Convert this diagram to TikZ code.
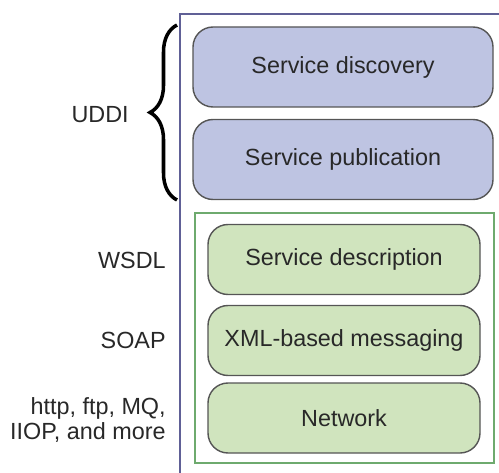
\documentclass[tikz,border=0pt]{standalone}
\usepackage{fontspec}
\setmainfont{Liberation Sans}
\usetikzlibrary{decorations.pathreplacing}
\definecolor{stackBlue}{RGB}{190,196,226}
\definecolor{stackGreen}{RGB}{208,228,190}
\definecolor{stackFrame}{RGB}{96,96,150}
\definecolor{stackLine}{RGB}{110,170,110}
\definecolor{stackEdge}{RGB}{85,85,85}
\definecolor{stackText}{RGB}{40,40,40}
\tikzset{
  layer/.style={draw=stackEdge, thick, rounded corners=4mm, fill=stackBlue,
    minimum width=6cm, minimum height=1.6cm, align=center, text=stackText,
    font=\fontsize{13.3}{16}\selectfont},
  layergreen/.style={layer, fill=stackGreen, minimum width=5.44cm, minimum height=1.4cm},
  tag/.style={anchor=east, align=right, text=stackText, inner sep=0pt,
    font=\fontsize{13.3}{13.8}\selectfont}
}
\begin{document}
\begin{tikzpicture}[x=0.2mm,y=-0.2mm]
    \useasboundingbox (0,0) rectangle (499,473);
    % outer frame and green group
    \draw[stackFrame, line width=1.2pt] (180,473) -- (180,14) -- (499,14);
    \draw[stackLine, line width=1pt] (195,213) rectangle (494,463);
    % layers
    \node[layer] (disc) at (343,67) {Service discovery};
    \node[layer] (pub) at (343,159.5) {Service publication};
    \node[layergreen] (desc) at (344,259.5) {Service description};
    \node[layergreen] (xmlmsg) at (344,340.5) {XML-based messaging};
    \node[layergreen] (net) at (344,418) {Network};
    % standards
    \coordinate (bracelow) at (177,200);
    \coordinate (bracehigh) at (177,25);
    \draw[decorate, decoration={brace, amplitude=5.4mm}, line width=2pt]
      (bracelow) -- (bracehigh);
    \node[tag] (uddi) at (129,115) {UDDI};
    \node[tag] (wsdl) at (166,260) {WSDL};
    \node[tag] (soap) at (166,340) {SOAP};
    \node[tag] (proto) at (166,420) {http, ftp, MQ,\\IIOP, and more};
  \end{tikzpicture}
\end{document}
